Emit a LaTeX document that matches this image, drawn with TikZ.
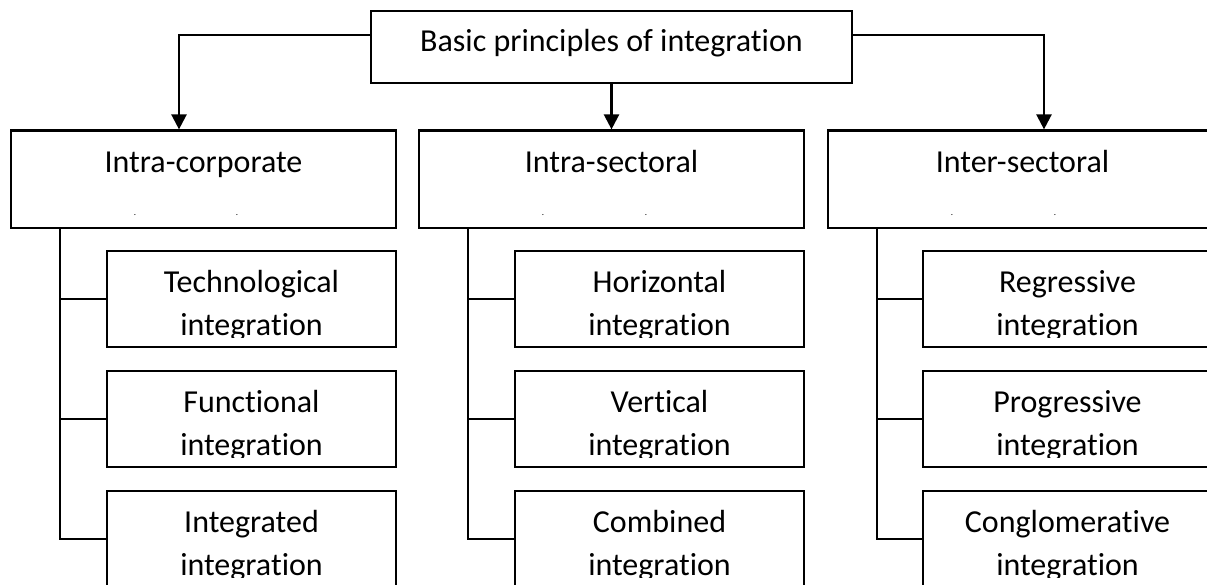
\documentclass[tikz,border=0pt]{standalone}
\usepackage{fontspec}
\setmainfont{Carlito}[Ligatures={NoCommon}]
\usetikzlibrary{arrows.meta}
\newcommand\childbox[5]{%
  \node[box, minimum width=289pt, minimum height=96pt] (#1) at (#2,#3) {};
  \begin{scope}
    \clip (#1.north west) rectangle ([yshift=11pt]#1.south east);
    \node[txt, yshift=-6.75pt] (#1t) at (#1.center) {#4\\#5};
  \end{scope}}
\begin{document}
\begin{tikzpicture}[x=1pt,y=-1pt,
  box/.style={draw, line width=2.2pt, inner sep=0pt},
  txt/.style={font=\fontsize{32}{43}\selectfont, inner sep=0pt, align=center},
  mid/.style={box, txt, minimum width=385pt, minimum height=97.5pt, text height=20pt, text depth=32.5pt},
  dotmark/.style={font=\fontsize{9}{9}\selectfont, inner sep=0pt, anchor=base},
  arr/.style={line width=2.4pt, -{Triangle[width=15pt,length=15pt]}},
  conn/.style={line width=2.2pt}]
\useasboundingbox (0,0) rectangle (1207,585);
\fill[white] (0,0) rectangle (1207,585);
\node[box, txt, minimum width=481pt, minimum height=72pt, text height=20pt, text depth=10pt] (top) at (611.5,47) {Basic principles of integration};
\node[mid] (l1) at (203.5,179.25) {Intra-corporate};
\node[mid] (l2) at (611.5,179.25) {Intra-sectoral};
\node[mid, minimum width=389pt] (l3) at (1022.5,179.25) {Inter-sectoral};
\node[dotmark] (d11) at (135,216) {.};
\node[dotmark] (d12) at (237,216) {.};
\node[dotmark] (d21) at (543,216) {.};
\node[dotmark] (d22) at (646,216) {.};
\node[dotmark] (d31) at (952,216) {.};
\node[dotmark] (d32) at (1055,216) {.};
\draw[arr] ([yshift=12pt]top.west) -| ([xshift=-24.5pt]l1.north);
\draw[arr] (top.south) -- (l2.north);
\draw[arr] ([yshift=12pt]top.east) -| ([xshift=21.5pt]l3.north);
\childbox{c11}{251.5}{299}{Technological}{integration}
\childbox{c12}{251.5}{419}{Functional}{integration}
\childbox{c13}{251.5}{539}{Integrated}{integration}
\childbox{c21}{659.5}{299}{Horizontal}{integration}
\childbox{c22}{659.5}{419}{Vertical}{integration}
\childbox{c23}{659.5}{539}{Combined}{integration}
\childbox{c31}{1067.5}{299}{Regressive}{integration}
\childbox{c32}{1067.5}{419}{Progressive}{integration}
\childbox{c33}{1067.5}{539}{Conglomerative}{integration}
\coordinate (t1) at ([xshift=50pt]l1.south west);
\coordinate (t2) at ([xshift=50pt]l2.south west);
\coordinate (t3) at ([xshift=50pt]l3.south west);
\draw[conn] (t1) |- (c13.west);
\draw[conn] (t1 |- c11.west) -- (c11.west);
\draw[conn] (t1 |- c12.west) -- (c12.west);
\draw[conn] (t2) |- (c23.west);
\draw[conn] (t2 |- c21.west) -- (c21.west);
\draw[conn] (t2 |- c22.west) -- (c22.west);
\draw[conn] (t3) |- (c33.west);
\draw[conn] (t3 |- c31.west) -- (c31.west);
\draw[conn] (t3 |- c32.west) -- (c32.west);
\end{tikzpicture}
\end{document}
